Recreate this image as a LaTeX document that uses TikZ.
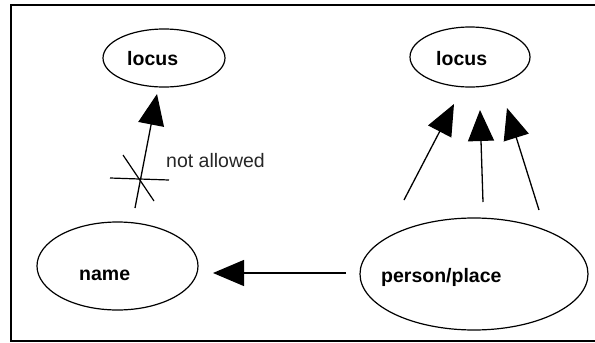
\documentclass[tikz,border=0pt]{standalone}
\usepackage{fontspec}
\setmainfont{Liberation Sans}
\usetikzlibrary{arrows.meta,shapes.geometric}
\begin{document}
\begin{tikzpicture}[x=1pt,y=-1pt,
  ell/.style={draw, ellipse, line width=1.2pt, inner sep=0pt},
  lbl/.style={inner sep=0pt, font=\fontsize{19.5}{22}\selectfont\bfseries},
  note/.style={inner sep=0pt, font=\fontsize{19.5}{22}\selectfont, text=black!85},
  arr/.style={line width=1.3pt, -{Triangle[length=31pt,width=26pt]}},
  frame/.style={line width=2pt}]
\useasboundingbox (0,0) rectangle (595,343);
\draw[frame] (595,5) -- (11,5) -- (11,341) -- (595,341);
% ellipses
\node[ell, minimum width=122pt, minimum height=58pt] (locA) at (164,58) {};
\node[ell, minimum width=120pt, minimum height=60pt] (locB) at (470,57) {};
\node[ell, minimum width=161pt, minimum height=88pt] (name) at (117.5,266) {};
\node[ell, minimum width=228pt, minimum height=112pt] (pp) at (474,274) {};
% labels
\node[lbl, anchor=base west] (locAt) at (127,65) {locus};
\node[lbl, anchor=base west] (locBt) at (436,65) {locus};
\node[lbl, anchor=base west] (namet) at (79,280) {name};
\node[lbl, anchor=base west] (ppt) at (381,282) {person/place};
\node[note, anchor=base west] (na) at (166,167) {not allowed};
% connector end points
\coordinate (s1) at (135,208); \coordinate (e1) at (157,94);
\coordinate (s2) at (404,200); \coordinate (e2) at (454,104);
\coordinate (s3) at (483,202); \coordinate (e3) at (480,110);
\coordinate (s4) at (539,210); \coordinate (e4) at (507,108);
\coordinate (s5) at (346,273); \coordinate (e5) at (213,273);
\coordinate (c1) at (110,178); \coordinate (c2) at (169,180);
\coordinate (c3) at (123,155); \coordinate (c4) at (154,201);
\draw[arr] (s1) -- (e1);
\draw[arr] (s2) -- (e2);
\draw[arr] (s3) -- (e3);
\draw[arr] (s4) -- (e4);
\draw[arr] (s5) -- (e5);
\draw[line width=1.2pt] (c1) -- (c2);
\draw[line width=1.2pt] (c3) -- (c4);
\end{tikzpicture}
\end{document}
